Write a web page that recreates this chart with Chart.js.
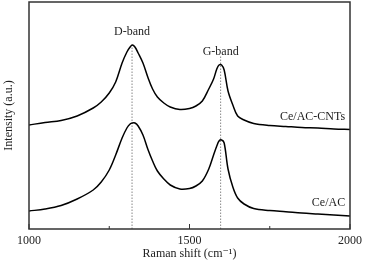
<!DOCTYPE html>
<html>
<head>
<meta charset="utf-8">
<script src="https://cdn.jsdelivr.net/npm/chart.js@4/dist/chart.umd.min.js"></script>
<style>
  body { margin: 0; background: #fff; }
  canvas { display: block; }
</style>
</head>
<body>
<canvas id="raman" width="367" height="269"></canvas>
<script>
// Raman spectra (intensity in arbitrary units)
const shifts = [1000, 1050, 1100, 1150, 1200, 1225, 1250, 1270, 1290, 1305, 1315, 1322, 1330, 1340, 1355, 1370,
    1385, 1400, 1420, 1440, 1470, 1500, 1520, 1540, 1560, 1575, 1585, 1592, 1600, 1608, 1620, 1635, 1650, 1670,
    1700, 1750, 1800, 1850, 1900, 1950, 2000];
const ceAcCnts = [104, 106.5, 108.5, 113, 121, 127, 136, 147, 166, 177, 182, 184, 182, 176, 166, 152,
    140, 132, 126, 122, 119.5, 120.5, 123, 128, 140, 150, 160, 164, 164, 159, 138, 124, 113, 109,
    105.5, 103.5, 102.5, 101.5, 101, 100, 99.5];
const ceAc = [18, 20, 23.5, 30, 39, 47, 59, 74, 91, 101, 105, 106, 106, 103, 94, 80,
    68, 58, 50, 44, 40, 40.5, 43, 48, 60, 74, 83, 88, 89, 86, 60, 42, 31, 25,
    20.5, 18.5, 17.3, 16, 15, 14, 13];
const seriesNames = ['Ce/AC-CNTs', 'Ce/AC'];

const bandNames = ['D-band', 'G-band'];
const bandShifts = [1321, 1597];
const bandTops = [186, 174];
const bandLabelLevels = [197, 177];

const serif = "'Liberation Serif', 'DejaVu Serif', serif";

function toPoints(ys) {
    return shifts.map((x, i) => ({ x: x, y: ys[i] }));
}

let datasets = [{
    label: seriesNames[0],
    data: toPoints(ceAcCnts),
    borderColor: '#000',
    borderWidth: 1.5,
    pointRadius: 0,
    tension: 0.35,
}, {
    label: seriesNames[1],
    data: toPoints(ceAc),
    borderColor: '#000',
    borderWidth: 1.5,
    pointRadius: 0,
    tension: 0.35,
}];

// dotted guide lines at the band centres
bandShifts.forEach((b, i) => {
    datasets.push({
        label: bandNames[i],
        data: [{ x: b, y: 0 }, { x: b, y: bandTops[i] }],
        borderColor: '#888',
        borderWidth: 1,
        borderDash: [1.5, 1.5],
        pointRadius: 0,
    });
});

// frame, inward ticks and the text labels
const decorations = {
    id: 'decorations',
    afterDraw(chart) {
        const ctx = chart.ctx;
        const a = chart.chartArea;
        const xs = chart.scales.x;
        const ys = chart.scales.y;
        ctx.save();
        ctx.strokeStyle = '#333';
        ctx.lineWidth = 1.5;
        ctx.strokeRect(a.left, a.top, a.right - a.left, a.bottom - a.top);

        ctx.lineWidth = 1;
        for (let v = 1000; v <= 2000; v += 250) {
            const px = xs.getPixelForValue(v);
            const len = v % 500 === 0 ? 5 : 3;
            ctx.beginPath();
            ctx.moveTo(px, a.bottom);
            ctx.lineTo(px, a.bottom - len);
            ctx.stroke();
        }

        ctx.fillStyle = '#222';
        ctx.font = '12px ' + serif;
        ctx.textAlign = 'center';
        ctx.textBaseline = 'middle';
        bandNames.forEach((name, i) => {
            ctx.fillText(name, xs.getPixelForValue(bandShifts[i]), ys.getPixelForValue(bandLabelLevels[i]));
        });

        ctx.textAlign = 'right';
        const ends = [ceAcCnts[ceAcCnts.length - 1], ceAc[ceAc.length - 1]];
        seriesNames.forEach((name, i) => {
            ctx.fillText(name, xs.getPixelForValue(1985), ys.getPixelForValue(ends[i]) - 13);
        });
        ctx.restore();
    }
};

const chart = new Chart(document.getElementById('raman'), {
    type: 'line',
    data: { datasets: datasets },
    options: {
        responsive: false,
        animation: false,
        layout: { padding: { top: 2, right: 14, left: 0, bottom: 0 } },
        plugins: {
            legend: { display: false },
            tooltip: { enabled: false },
        },
        scales: {
            x: {
                type: 'linear',
                min: 1000,
                max: 2000,
                grid: { display: false, drawTicks: false },
                border: { display: false },
                ticks: {
                    stepSize: 250,
                    padding: 5,
                    color: '#222',
                    font: { family: serif, size: 12 },
                    maxRotation: 0,
                    callback: v => (v % 500 === 0 ? v : ''),
                },
                title: {
                    display: true,
                    text: 'Raman shift (cm\u207B\u00B9)',
                    color: '#222',
                    font: { family: serif, size: 12 },
                    padding: { top: 0, bottom: 8 },
                },
                afterFit: s => { s.height = 40; },
            },
            y: {
                min: 0,
                max: 227,
                grid: { display: false, drawTicks: false },
                border: { display: false },
                ticks: { display: false },
                title: {
                    display: true,
                    text: 'Intensity (a.u.)',
                    color: '#222',
                    font: { family: serif, size: 12 },
                    padding: { top: 2, bottom: 0 },
                },
                afterFit: s => { s.width = 29; },
            },
        },
    },
    plugins: [decorations],
});
</script>
</body>
</html>
